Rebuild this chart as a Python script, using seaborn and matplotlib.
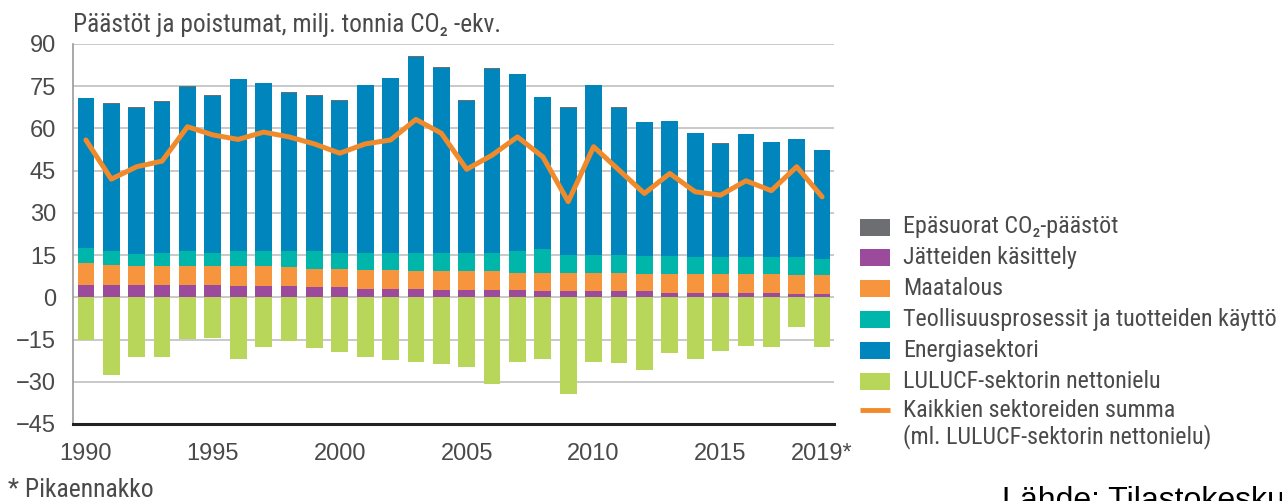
import numpy as np
import pandas as pd
import seaborn as sns
import matplotlib.pyplot as plt
from matplotlib.patches import Rectangle

# values, milj. t CO2-ekv.
years = list(range(1990, 2020))
energy = [53.3, 52.2, 52.0, 53.5, 58.2, 55.7, 60.8, 59.4, 56.1, 55.0,
          53.9, 59.5, 61.9, 69.5, 65.7, 53.9, 65.2, 62.7, 54.2, 52.3,
          60.2, 52.3, 47.5, 48.0, 44.2, 40.4, 43.6, 41.0, 41.9, 38.5]
industry = [5.3, 5.0, 4.3, 4.8, 5.5, 4.8, 5.5, 5.5, 5.9, 6.4,
            5.7, 6.2, 6.2, 6.7, 6.7, 6.7, 6.7, 7.8, 8.2, 6.3,
            6.3, 6.3, 6.4, 6.4, 5.9, 5.9, 6.1, 5.9, 6.4, 5.9]
agriculture = [7.7, 7.2, 6.7, 6.7, 6.7, 6.7, 7.1, 7.1, 6.7, 6.6,
               6.6, 6.6, 6.6, 6.1, 6.6, 6.6, 6.6, 6.2, 6.7, 6.7,
               6.7, 6.7, 6.2, 6.6, 6.6, 6.6, 6.6, 6.6, 6.6, 6.6]
waste = [4.4, 4.4, 4.4, 4.4, 4.4, 4.4, 4.0, 4.0, 4.0, 3.6,
         3.6, 3.1, 3.1, 3.1, 2.6, 2.6, 2.6, 2.6, 2.1, 2.1,
         2.1, 2.1, 2.1, 1.7, 1.7, 1.7, 1.7, 1.7, 1.2, 1.2]
indirect = [0.2, 0.2, 0.2, 0.2, 0.2, 0.2, 0.2, 0.2, 0.2, 0.2,
            0.2, 0.2, 0.2, 0.2, 0.2, 0.2, 0.2, 0.2, 0.1, 0.1,
            0.1, 0.1, 0.1, 0.1, 0.1, 0.1, 0.1, 0.1, 0.1, 0.1]
lulucf = [-15.2, -27.6, -21.3, -21.3, -14.7, -14.3, -21.9, -17.7, -15.5, -18.1,
          -19.5, -21.3, -22.4, -22.9, -23.8, -24.6, -30.9, -22.9, -21.9, -34.2,
          -22.9, -23.3, -25.7, -19.7, -21.9, -19.1, -17.2, -17.7, -10.4, -17.7]
total = [55.9, 42.0, 46.4, 48.4, 60.6, 57.7, 56.1, 58.7, 57.0, 54.5,
         51.2, 54.5, 55.9, 63.2, 58.3, 45.5, 50.5, 57.0, 49.9, 34.0,
         53.5, 45.2, 36.9, 44.0, 37.5, 36.3, 41.4, 37.9, 46.4, 35.7]

tick_years = [1990, 1995, 2000, 2005, 2010, 2015, 2019]
tick_labels = ["1990", "1995", "2000", "2005", "2010", "2015", "2019*"]

labels = ["Epäsuorat CO₂-päästöt", "Jätteiden käsittely", "Maatalous",
          "Teollisuusprosessit ja tuotteiden käyttö", "Energiasektori",
          "LULUCF-sektorin nettonielu",
          "Kaikkien sektoreiden summa\n(ml. LULUCF-sektorin nettonielu)"]

c_grey = "#6d6e71"
c_waste = "#9b4a9c"
c_agri = "#f7953f"
c_ind = "#00b6aa"
c_energy = "#0086bd"
c_lulucf = "#b7d65a"
c_line = "#f18a2b"
txt = "#4a4a4a"

sns.set_theme(style="white")
narrow = ["Liberation Sans Narrow", "DejaVu Sans Condensed", "Roboto Condensed",
          "Noto Sans Condensed", "Liberation Sans", "DejaVu Sans"]
plt.rcParams["font.family"] = narrow

df = pd.DataFrame({"year": years, "energy": energy, "industry": industry,
                   "agriculture": agriculture, "waste": waste,
                   "indirect": indirect, "lulucf": lulucf, "total": total})

fig = plt.figure(figsize=(12.82, 5.01), dpi=100)
ax = fig.add_axes([72.7 / 1282, 1 - 424 / 501, (834 - 72.7) / 1282, 380 / 501])

w = 0.66
bottom = np.zeros(len(df))
for col, c in [("waste", c_waste), ("agriculture", c_agri), ("industry", c_ind),
               ("energy", c_energy), ("indirect", c_grey)]:
    ax.bar(df["year"], df[col], bottom=bottom, width=w, color=c, linewidth=0, zorder=2)
    bottom += df[col].values
ax.bar(df["year"], df["lulucf"], width=w, color=c_lulucf, linewidth=0, zorder=2)

sns.lineplot(data=df, x="year", y="total", color=c_line, linewidth=3.6,
             ax=ax, zorder=3, legend=False)

ax.set_xlim(1989.48, 2019.47)
ax.set_ylim(-45, 90)
ax.set_yticks(range(-45, 91, 15))
ax.set_yticklabels([str(v).replace("-", "−") for v in range(-45, 91, 15)])
ax.set_xticks(tick_years)
ax.set_xticklabels(tick_labels)
ax.set_xlabel("")
ax.set_ylabel("")
ax.grid(axis="y", color="#c9c9c9", linewidth=1.4, zorder=0)
ax.set_axisbelow(True)
for s in ["top", "right"]:
    ax.spines[s].set_visible(False)
ax.spines["left"].set_color("#9a9a9a")
ax.spines["left"].set_linewidth(1.2)
ax.spines["bottom"].set_color("#222222")
ax.spines["bottom"].set_linewidth(2.2)
ax.tick_params(axis="both", length=0, labelsize=17, labelcolor=txt)
ax.tick_params(axis="y", pad=12)
ax.tick_params(axis="x", pad=14)
for t in ax.get_xticklabels() + ax.get_yticklabels():
    t.set_family(["Liberation Sans", "DejaVu Sans"])

# overlay in pixel coordinates for title, legend and notes
ov = fig.add_axes([0, 0, 1, 1])
ov.set_xlim(0, 1282)
ov.set_ylim(501, 0)
ov.axis("off")
ov.patch.set_alpha(0)

renderer = fig.canvas.get_renderer()


def fit_width(t, target):
    # shrink/grow font so the text spans the width seen in the reference
    bb = t.get_window_extent(renderer)
    t.set_fontsize(t.get_fontsize() * target / bb.width)


title = ov.text(73, 31.5, "Päästöt ja poistumat, milj. tonnia CO₂ -ekv.", fontsize=18,
                color=txt, va="baseline", ha="left")
fit_width(title, 427)

leg_colors = [c_grey, c_waste, c_agri, c_ind, c_energy, c_lulucf]
leg_texts = []
for i, (lab, c) in enumerate(zip(labels[:6], leg_colors)):
    yc = 227 + i * 30.8
    ov.add_patch(Rectangle((860, yc - 8.5), 30, 17, color=c, linewidth=0))
    leg_texts.append(ov.text(903, yc, lab, fontsize=18, color=txt,
                             va="center", ha="left"))
yl = 227 + 6 * 30.8
ov.plot([860, 890], [yl - 2, yl - 2], color=c_line, linewidth=3.5,
        solid_capstyle="butt")
leg_texts.append(ov.text(903, yl - 13, labels[6], fontsize=18, color=txt,
                         va="top", ha="left", linespacing=1.1))
bb = leg_texts[3].get_window_extent(renderer)
fs = 18 * 374 / bb.width
for t in leg_texts:
    t.set_fontsize(fs)

note = ov.text(8, 497, "* Pikaennakko", fontsize=14, color=txt, va="baseline", ha="left")
fit_width(note, 146)
# the source note runs past the right edge in the reference as well
ov.text(1002, 486, "Lähde: Tilastokeskus", fontsize=23, color="black",
        va="top", ha="left", family=["Liberation Sans", "DejaVu Sans"])

fig.savefig("out.png", dpi=100)
